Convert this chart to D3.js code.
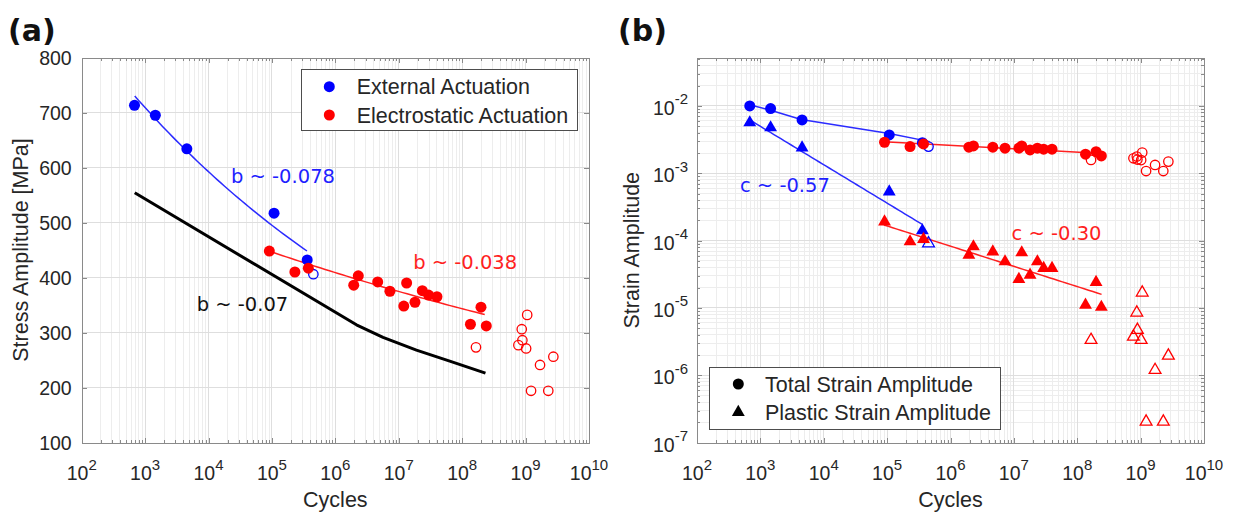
<!DOCTYPE html>
<html>
<head>
<meta charset="utf-8">
<script src="https://cdn.jsdelivr.net/npm/d3@7"></script>
<style>
  html, body { margin: 0; padding: 0; background: #fff; }
  svg { display: block; }
</style>
</head>
<body>
<svg id="fig" width="1239" height="512"></svg>
<script>
// ---------------- data ----------------
// tick values
const cycleExponents = [2, 3, 4, 5, 6, 7, 8, 9, 10];
const stressTicks = [100, 200, 300, 400, 500, 600, 700, 800];
const strainExponents = [-7, -6, -5, -4, -3, -2];

// external actuation (blue)
const extCycles  = [680, 1450, 4550, 1.08e5, 3.6e5];
const extStress  = [713, 695, 634, 517, 432];
const extTotal   = [0.0100, 0.00912, 0.0062, 0.00371, 0.00285];
const extPlastic = [0.00565, 0.00476, 0.0024, 0.000533, 0.000141];
// external actuation run-out
const extRunoutCycles  = [4.5e5];
const extRunoutStress  = [406];
const extRunoutTotal   = [0.00249];
const extRunoutPlastic = [9.1e-5];

// electrostatic actuation (red)
const esCycles  = [9.1e4, 2.3e5, 3.75e5, 1.95e6, 2.3e6, 4.65e6, 7.25e6, 1.33e7, 1.2e7, 1.8e7, 2.35e7, 2.95e7, 4.0e7, 1.35e8, 1.98e8, 2.4e8];
const esStress  = [448, 410, 417, 386, 403, 392, 375, 390, 348, 355, 376, 368, 365, 315, 346, 312];
const esTotal   = [0.00289, 0.00249, 0.00273, 0.00244, 0.00255, 0.00244, 0.00236, 0.00255, 0.00236, 0.00222, 0.00236, 0.00228, 0.00228, 0.00192, 0.00209, 0.00181];
const esPlastic = [1.91e-4, 9.66e-5, 1.05e-4, 6.12e-5, 8.15e-5, 6.85e-5, 4.88e-5, 6.64e-5, 2.67e-5, 3.09e-5, 4.88e-5, 3.89e-5, 3.89e-5, 1.11e-5, 2.41e-5, 1.03e-5];
// electrostatic actuation run-outs
const esRunoutCycles  = [1.65e8, 1.06e9, 8.7e8, 8.9e8, 7.7e8, 1.02e9, 1.69e9, 2.74e9, 1.22e9, 2.28e9];
const esRunoutStress  = [273, 332, 306, 286, 277, 271, 241, 256, 194, 194];
const esRunoutTotal   = [0.00158, 0.00203, 0.00177, 0.0016, 0.00167, 0.00157, 0.00133, 0.00149, 0.00108, 0.00108];
const esRunoutPlastic = [3.35e-6, 1.69e-5, 8.53e-6, 4.72e-6, 3.75e-6, 3.35e-6, 1.2e-6, 1.96e-6, 2.05e-7, 2.05e-7];

// reference S-N curve (black)
const refCurveCycles = [686, 2.15e6, 5.65e6, 1.9e7, 6.37e7, 2.33e8];
const refCurveStress = [554, 314, 291, 268, 248, 226];

// power-law fits: value = v0 * (N / n0) ^ exponent, drawn from n0 to n1
const fitExtStress = { n0: 686,   v0: 730,     n1: 3.57e5, exponent: -0.078 };
const fitEsStress  = { n0: 9.0e4, v0: 448,     n1: 2.27e8, exponent: -0.038 };
const fitExtPlastic = { n0: 680,  v0: 0.0062,  n1: 3.6e5,  exponent: -0.57 };
const fitEsPlastic  = { n0: 8.9e4, v0: 1.71e-4, n1: 2.42e8, exponent: -0.30 };

// total strain fit curves
const extTotalFitCycles = [608, 1450, 4400, 1.08e5, 4.7e5];
const extTotalFitStrain = [0.0107, 0.0086, 0.0063, 0.0039, 0.00295];
const esTotalFitCycles  = [8.9e4, 2.42e8];
const esTotalFitStrain  = [0.00294, 0.00197];

// annotations
const stressNotes = [
  { text: "b ~ -0.078", n: 2.26e4, v: 572, color: "#1f1fff" },
  { text: "b ~ -0.038", n: 1.69e7, v: 415, color: "#ff1f1f" },
  { text: "b ~ -0.07",  n: 6.5e3,  v: 339, color: "#111111" }
];
const strainNotes = [
  { text: "c ~ -0.57", n: 476,   v: 5.33e-4, color: "#1f1fff" },
  { text: "c ~ -0.30", n: 9.2e6, v: 1.02e-4, color: "#ff1f1f" }
];

// ---------------- drawing ----------------
const BLUE = "#0000ff", RED = "#ff0000";
const BLUE_LINE = "#2b2bff", RED_LINE = "#ff2020";
const FONT = "'Liberation Sans', Arial, Helvetica, sans-serif";
const NOTE_FONT = "'DejaVu Sans', 'Liberation Sans', sans-serif";
const TEXT_COLOR = "#262626";
const AXIS_COLOR = "#8a8a8a";

const svg = d3.select("#fig");
svg.append("rect").attr("width", 1239).attr("height", 512).attr("fill", "#fff");

const panelA = {
  x: d3.scaleLog().domain([1e2, 1e10]).range([81.7, 589]),
  y: d3.scaleLinear().domain([100, 800]).range([442.5, 57.5])
};
const panelB = {
  x: d3.scaleLog().domain([1e2, 1e10]).range([697, 1204]),
  y: d3.scaleLog().domain([1e-7, 0.052]).range([442.7, 57.7])
};

function zip(a, b) { return a.map((v, i) => ({ n: v, v: b[i] })); }

function logMinor(loExp, hiExp, domain) {
  const out = [];
  for (let k = loExp; k < hiExp; k++) {
    for (let m = 2; m <= 9; m++) {
      const v = m * Math.pow(10, k);
      if (v > domain[0] && v < domain[1]) out.push(v);
    }
  }
  return out;
}

const cycleMajor = cycleExponents.map(e => Math.pow(10, e));
const cycleMinor = logMinor(2, 10, [1e2, 1e10]);

function grid(g, sc, xMinor, xMajor, yMinor, yMajor) {
  const [x0, x1] = sc.x.range();
  const [y0, y1] = sc.y.range();
  const gg = g.append("g").attr("shape-rendering", "crispEdges");
  gg.selectAll("line.vminor").data(xMinor).join("line")
    .attr("x1", d => sc.x(d)).attr("x2", d => sc.x(d)).attr("y1", y0).attr("y2", y1)
    .attr("stroke", "#ededed").attr("stroke-width", 1);
  gg.selectAll("line.hminor").data(yMinor).join("line")
    .attr("y1", d => sc.y(d)).attr("y2", d => sc.y(d)).attr("x1", x0).attr("x2", x1)
    .attr("stroke", "#ededed").attr("stroke-width", 1);
  gg.selectAll("line.vmajor").data(xMajor).join("line")
    .attr("x1", d => sc.x(d)).attr("x2", d => sc.x(d)).attr("y1", y0).attr("y2", y1)
    .attr("stroke", "#dedede").attr("stroke-width", 1);
  gg.selectAll("line.hmajor").data(yMajor).join("line")
    .attr("y1", d => sc.y(d)).attr("y2", d => sc.y(d)).attr("x1", x0).attr("x2", x1)
    .attr("stroke", "#dedede").attr("stroke-width", 1);
}

function styleAxis(sel) {
  sel.selectAll("text").remove();
  sel.attr("font-family", null).attr("font-size", null);
  sel.selectAll("path.domain").attr("stroke", AXIS_COLOR).attr("stroke-width", 1);
  sel.selectAll("line").attr("stroke", AXIS_COLOR).attr("stroke-width", 1);
  sel.attr("shape-rendering", "crispEdges");
}

function frame(g, sc, yMajor, yMinor) {
  const [x0, x1] = sc.x.range();
  const [y0, y1] = sc.y.range();
  const defs = [
    [d3.axisBottom(sc.x), `translate(0,${y0})`, cycleMajor, cycleMinor],
    [d3.axisTop(sc.x), `translate(0,${y1})`, cycleMajor, cycleMinor],
    [d3.axisLeft(sc.y), `translate(${x0},0)`, yMajor, yMinor],
    [d3.axisRight(sc.y), `translate(${x1},0)`, yMajor, yMinor]
  ];
  defs.forEach(([ax, tr, major, minor]) => {
    if (minor.length) {
      g.append("g").attr("transform", tr)
        .call(ax.tickValues(minor).tickSize(-3).tickSizeOuter(0).tickFormat(""))
        .call(styleAxis);
    }
    g.append("g").attr("transform", tr)
      .call(ax.tickValues(major).tickSize(-5).tickSizeOuter(0).tickFormat(""))
      .call(styleAxis);
  });
}

function powerLabel(g, x, y, exp, anchor) {
  const t = g.append("text").attr("x", x).attr("y", y)
    .attr("text-anchor", anchor).attr("font-family", FONT)
    .attr("font-size", 19.5).attr("fill", TEXT_COLOR);
  t.append("tspan").text("10");
  t.append("tspan").attr("dy", -10.5).attr("font-size", 15).text(exp);
}

function cycleLabels(g, sc) {
  const y0 = sc.y.range()[0];
  cycleExponents.forEach(e => powerLabel(g, sc.x(Math.pow(10, e)), y0 + 37.5, e, "middle"));
  g.append("text").attr("x", d3.mean(sc.x.range())).attr("y", 507)
    .attr("text-anchor", "middle").attr("font-family", FONT).attr("font-size", 21.5)
    .attr("fill", TEXT_COLOR).text("Cycles");
}

function powerFit(f) {
  return d3.range(0, 1.0001, 0.02).map(t => {
    const n = f.n0 * Math.pow(f.n1 / f.n0, t);
    return { n, v: f.v0 * Math.pow(n / f.n0, f.exponent) };
  });
}

function linePath(g, sc, pts, color, width) {
  g.append("path").datum(pts)
    .attr("d", d3.line().x(d => sc.x(d.n)).y(d => sc.y(d.v)))
    .attr("fill", "none").attr("stroke", color).attr("stroke-width", width)
    .attr("stroke-linejoin", "round");
}

function circles(g, sc, pts, color, filled) {
  g.append("g").selectAll("circle").data(pts).join("circle")
    .attr("cx", d => sc.x(d.n)).attr("cy", d => sc.y(d.v))
    .attr("r", filled ? 5.5 : 4.7)
    .attr("fill", filled ? color : "none")
    .attr("stroke", color).attr("stroke-width", filled ? 0 : 1.3);
}

const triangle = d3.symbol(d3.symbolTriangle, 72);
const triangleOpen = d3.symbol(d3.symbolTriangle, 60);
function triangles(g, sc, pts, color, filled) {
  g.append("g").selectAll("path").data(pts).join("path")
    .attr("transform", d => `translate(${sc.x(d.n)},${sc.y(d.v)})`)
    .attr("d", filled ? triangle : triangleOpen)
    .attr("fill", filled ? color : "none")
    .attr("stroke", color).attr("stroke-width", filled ? 0 : 1.3)
    .attr("stroke-linejoin", "miter");
}

function notes(g, sc, list) {
  g.selectAll("text.note").data(list).join("text")
    .attr("x", d => sc.x(d.n)).attr("y", d => sc.y(d.v))
    .attr("font-family", NOTE_FONT).attr("font-size", 19.5)
    .attr("fill", d => d.color).text(d => d.text);
}

// ---------- panel (a): stress amplitude ----------
const gA = svg.append("g");
const stressGrid = stressTicks.filter(v => v > 100 && v < 800);
grid(gA, panelA, cycleMinor, cycleMajor.slice(1, -1), [], stressGrid);
frame(gA, panelA, stressTicks, []);

stressTicks.forEach(v => {
  gA.append("text").attr("x", panelA.x.range()[0] - 10).attr("y", panelA.y(v) + 7)
    .attr("text-anchor", "end").attr("font-family", FONT).attr("font-size", 19.5)
    .attr("fill", TEXT_COLOR).text(v);
});
cycleLabels(gA, panelA);
gA.append("text").attr("transform", `translate(28,${d3.mean(panelA.y.range())}) rotate(-90)`)
  .attr("text-anchor", "middle").attr("font-family", FONT).attr("font-size", 21.5)
  .attr("fill", TEXT_COLOR).text("Stress Amplitude [MPa]");

linePath(gA, panelA, zip(refCurveCycles, refCurveStress), "#000", 3);
linePath(gA, panelA, powerFit(fitExtStress), BLUE_LINE, 1.5);
linePath(gA, panelA, powerFit(fitEsStress), RED_LINE, 1.5);
circles(gA, panelA, zip(extCycles, extStress), BLUE, true);
circles(gA, panelA, zip(extRunoutCycles, extRunoutStress), BLUE, false);
circles(gA, panelA, zip(esCycles, esStress), RED, true);
circles(gA, panelA, zip(esRunoutCycles, esRunoutStress), RED, false);
notes(gA, panelA, stressNotes);

// legend (a)
const legA = gA.append("g");
legA.append("rect").attr("x", 301.7).attr("y", 69).attr("width", 275.6).attr("height", 61)
  .attr("fill", "#fff").attr("stroke", "#4d4d4d").attr("stroke-width", 1).attr("shape-rendering", "crispEdges");
[["External Actuation", BLUE], ["Electrostatic Actuation", RED]].forEach(([label, color], i) => {
  legA.append("circle").attr("cx", 329.3).attr("cy", 86.7 + i * 28.3).attr("r", 5.5).attr("fill", color);
  legA.append("text").attr("x", 356.7).attr("y", 94.2 + i * 28.3)
    .attr("font-family", FONT).attr("font-size", 21.5).attr("fill", TEXT_COLOR).text(label);
});

// ---------- panel (b): strain amplitude ----------
const gB = svg.append("g");
const strainMajor = strainExponents.map(e => Math.pow(10, e));
const strainMinor = logMinor(-7, -1, panelB.y.domain());
grid(gB, panelB, cycleMinor, cycleMajor.slice(1, -1), strainMinor, strainMajor.slice(1));
frame(gB, panelB, strainMajor, strainMinor);

strainExponents.forEach(e => powerLabel(gB, panelB.x.range()[0] - 9, panelB.y(Math.pow(10, e)) + 9, "-" + Math.abs(e), "end"));
cycleLabels(gB, panelB);
gB.append("text").attr("transform", `translate(639,${d3.mean(panelB.y.range())}) rotate(-90)`)
  .attr("text-anchor", "middle").attr("font-family", FONT).attr("font-size", 21.5)
  .attr("fill", TEXT_COLOR).text("Strain Amplitude");

linePath(gB, panelB, zip(extTotalFitCycles, extTotalFitStrain), BLUE_LINE, 1.5);
linePath(gB, panelB, zip(esTotalFitCycles, esTotalFitStrain), RED_LINE, 1.5);
linePath(gB, panelB, powerFit(fitExtPlastic), BLUE_LINE, 1.5);
linePath(gB, panelB, powerFit(fitEsPlastic), RED_LINE, 1.5);

circles(gB, panelB, zip(extCycles, extTotal), BLUE, true);
circles(gB, panelB, zip(extRunoutCycles, extRunoutTotal), BLUE, false);
triangles(gB, panelB, zip(extCycles, extPlastic), BLUE, true);
triangles(gB, panelB, zip(extRunoutCycles, extRunoutPlastic), BLUE, false);
circles(gB, panelB, zip(esCycles, esTotal), RED, true);
circles(gB, panelB, zip(esRunoutCycles, esRunoutTotal), RED, false);
triangles(gB, panelB, zip(esCycles, esPlastic), RED, true);
triangles(gB, panelB, zip(esRunoutCycles, esRunoutPlastic), RED, false);
notes(gB, panelB, strainNotes);

// legend (b)
const legB = gB.append("g");
legB.append("rect").attr("x", 709.3).attr("y", 367.3).attr("width", 290.7).attr("height", 62)
  .attr("fill", "#fff").attr("stroke", "#4d4d4d").attr("stroke-width", 1).attr("shape-rendering", "crispEdges");
legB.append("circle").attr("cx", 738.3).attr("cy", 384).attr("r", 5.5).attr("fill", "#000");
legB.append("path").attr("transform", "translate(738.3,412.3)").attr("d", triangle).attr("fill", "#000");
["Total Strain Amplitude", "Plastic Strain Amplitude"].forEach((label, i) => {
  legB.append("text").attr("x", 765).attr("y", 391.6 + i * 28.3)
    .attr("font-family", FONT).attr("font-size", 21.5).attr("fill", TEXT_COLOR).text(label);
});

// panel tags
[["(a)", 8], ["(b)", 618]].forEach(([tag, x]) => {
  svg.append("text").attr("x", x).attr("y", 41).attr("font-family", "'DejaVu Sans', sans-serif")
    .attr("font-weight", "bold").attr("font-size", 30).attr("fill", "#111").text(tag);
});
</script>
</body>
</html>
